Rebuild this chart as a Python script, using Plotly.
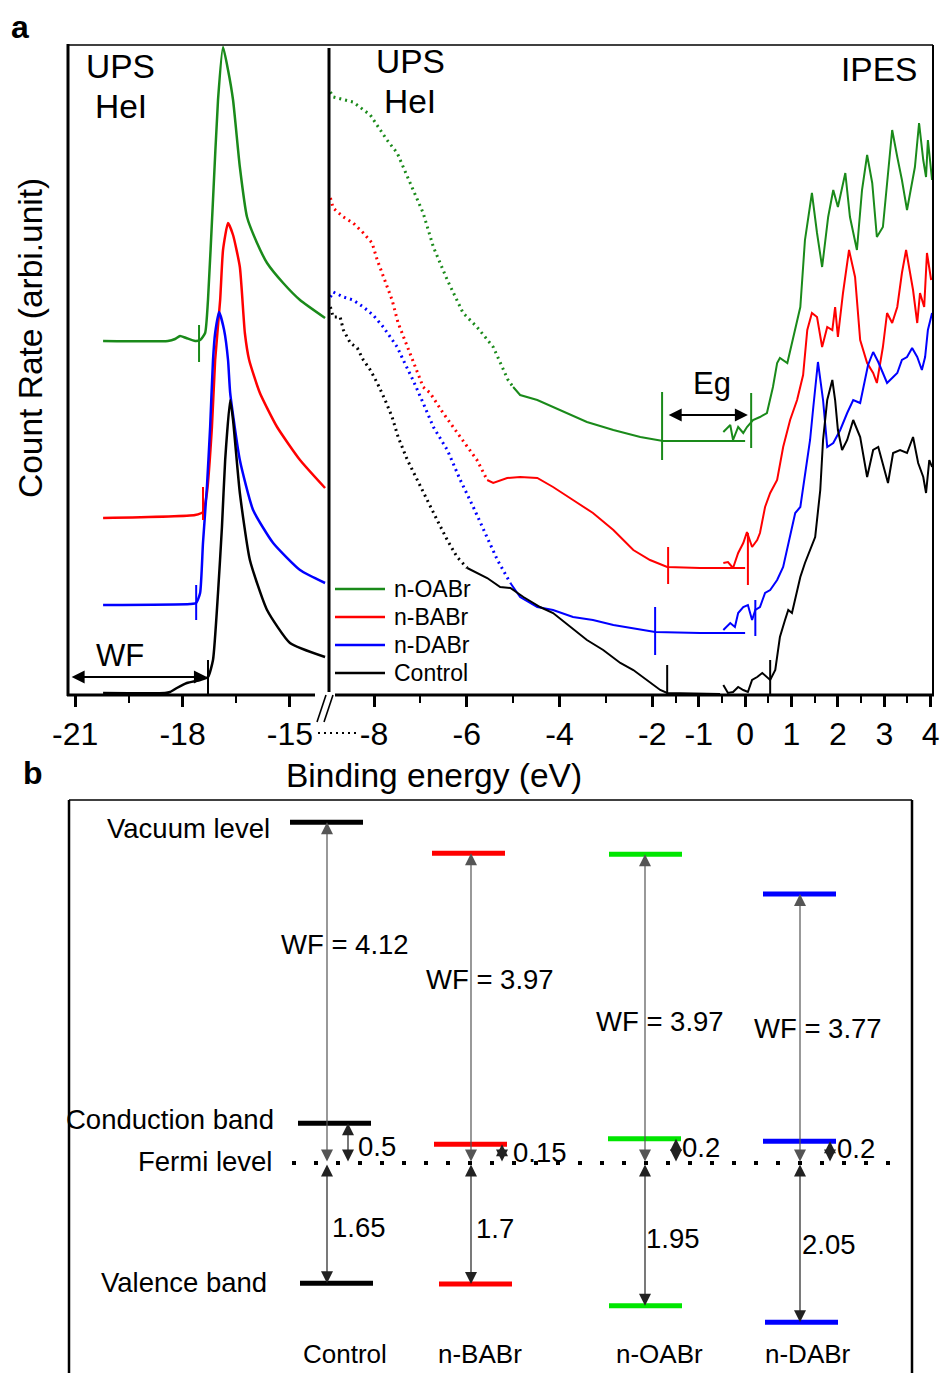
import plotly.graph_objects as go

W, H = 944, 1373
def PX(x):
    return x / W
def PY(y):
    return 1 - y / H

FONT = "Liberation Sans, Arial, sans-serif"

# ---------------- Panel a data ----------------
series = ["n-OABr", "n-BABr", "n-DABr", "Control"]
colors_a = ["#1a8a1a", "#ff0000", "#0000ff", "#000000"]

# secondary-electron cutoff region (binding energy eV, count rate arb.)
cut_e = [
    [-20.22, -18.41, -18.21, -18.07, -17.90, -17.65, -17.51, -17.37, -17.29, -17.15, -17.01, -16.87, -16.73, -16.59, -16.40, -16.20, -15.92, -15.64, -15.19, -14.72, -14.02],
    [-20.22, -17.65, -17.43, -17.32, -17.18, -17.09, -16.95, -16.87, -16.73, -16.59, -16.40, -16.26, -16.14, -15.84, -15.36, -14.72, -14.02],
    [-20.22, -17.79, -17.62, -17.51, -17.43, -17.32, -17.23, -17.15, -17.09, -16.98, -16.84, -16.73, -16.67, -16.40, -16.03, -15.47, -14.72, -14.02],
    [-20.22, -18.49, -18.35, -18.16, -17.88, -17.51, -17.29, -17.15, -17.01, -16.90, -16.81, -16.67, -16.59, -16.40, -16.12, -15.64, -15.00, -14.02],
]
cut_c = [
    [354, 354, 356, 359, 357, 354, 355, 362, 395, 495, 595, 648, 625, 595, 528, 478, 452, 432, 412, 395, 377],
    [177, 180, 183, 202, 268, 335, 395, 445, 472, 460, 428, 362, 335, 302, 268, 235, 207],
    [90, 91, 92, 102, 152, 208, 268, 335, 362, 383, 365, 335, 302, 235, 185, 152, 125, 112],
    [2, 2, 3, 7, 12, 15, 18, 35, 102, 168, 235, 295, 275, 202, 135, 85, 52, 38],
]

# UPS valence region, sparse (dotted) part
ups_dot_e = [
    [-8.94, -8.88, -8.45, -8.08, -7.72, -7.50, -7.22, -6.94, -6.72, -6.42, -6.08, -5.78, -5.43, -5.11, -5.00],
    [-8.94, -8.88, -8.66, -8.45, -8.23, -8.04, -7.93, -7.80, -7.61, -7.48, -7.28, -7.07, -6.94, -6.79, -6.51, -6.14, -5.78, -5.56],
    [-8.94, -8.88, -8.66, -8.45, -8.23, -8.02, -7.80, -7.65, -7.50, -7.37, -7.16, -6.94, -6.72, -6.42, -6.14, -5.86, -5.56, -5.34, -5.06],
    [-8.94, -8.88, -8.73, -8.66, -8.51, -8.36, -8.23, -8.08, -7.93, -7.76, -7.61, -7.48, -7.28, -7.07, -6.85, -6.64, -6.42, -6.21, -5.99],
]
ups_dot_c = [
    [603, 598, 593, 580, 555, 542, 512, 482, 448, 415, 382, 368, 348, 315, 308],
    [497, 487, 478, 472, 462, 452, 435, 418, 395, 372, 348, 322, 308, 302, 282, 258, 235, 215],
    [398, 403, 398, 395, 388, 380, 368, 358, 348, 335, 315, 292, 268, 245, 215, 188, 158, 135, 112],
    [388, 378, 378, 365, 352, 347, 335, 325, 312, 295, 278, 258, 235, 215, 195, 175, 155, 138, 127],
]
# UPS valence region, dense (solid) part
ups_sol_e = [
    [-5.00, -4.85, -4.48, -3.99, -3.41, -2.84, -2.26, -1.77, -0.97, 0.0],
    [-5.56, -5.43, -5.13, -4.85, -4.48, -4.14, -3.71, -3.28, -2.84, -2.41, -2.05, -1.68, -0.97, 0.0],
    [-5.06, -4.85, -4.48, -4.14, -3.71, -3.28, -2.84, -2.41, -1.94, -0.97, 0.0],
    [-5.99, -5.78, -5.56, -5.28, -5.06, -4.78, -4.42, -4.14, -3.77, -3.41, -3.06, -2.69, -2.41, -2.11, -1.83, -1.68, -0.97, -0.54],
]
ups_sol_c = [
    [308, 300, 295, 285, 273, 265, 258, 254, 254, 254],
    [215, 212, 217, 218, 217, 208, 195, 182, 165, 145, 135, 128, 127, 127],
    [112, 98, 88, 85, 78, 75, 70, 67, 63, 62, 62],
    [127, 122, 117, 108, 107, 98, 88, 82, 68, 55, 45, 32, 25, 15, 5, 2, 1, 1],
]
# IPES conduction region
ipes_e = [
    [-0.47, -0.32, -0.26, -0.15, -0.04, 0.04, 0.17, 0.32, 0.47, 0.60, 0.69, 0.75, 0.91, 1.03, 1.19, 1.29, 1.44, 1.55, 1.66, 1.79, 1.90, 2.00, 2.16, 2.26, 2.41, 2.52, 2.63, 2.74, 2.84, 2.97, 3.06, 3.17, 3.28, 3.38, 3.49, 3.60, 3.66, 3.75, 3.84, 3.90, 3.94, 4.03],
    [-0.47, -0.37, -0.26, -0.15, -0.04, 0.04, 0.15, 0.26, 0.32, 0.43, 0.54, 0.69, 0.82, 0.97, 1.12, 1.25, 1.34, 1.44, 1.55, 1.66, 1.77, 1.88, 1.94, 2.00, 2.11, 2.24, 2.37, 2.48, 2.63, 2.76, 2.84, 2.97, 3.06, 3.17, 3.28, 3.38, 3.47, 3.56, 3.62, 3.71, 3.77, 3.86, 3.92, 4.01],
    [-0.47, -0.32, -0.22, -0.15, -0.04, 0.06, 0.15, 0.22, 0.32, 0.43, 0.54, 0.69, 0.82, 0.97, 1.08, 1.19, 1.29, 1.40, 1.47, 1.57, 1.68, 1.77, 1.90, 2.05, 2.20, 2.33, 2.48, 2.65, 2.76, 2.87, 2.97, 3.06, 3.17, 3.28, 3.38, 3.49, 3.60, 3.71, 3.81, 3.88, 3.94, 4.03],
    [-0.47, -0.37, -0.26, -0.15, -0.04, 0.06, 0.15, 0.26, 0.37, 0.47, 0.54, 0.65, 0.75, 0.86, 0.93, 1.01, 1.08, 1.19, 1.29, 1.40, 1.51, 1.62, 1.68, 1.77, 1.88, 1.94, 2.00, 2.09, 2.20, 2.33, 2.48, 2.63, 2.76, 2.87, 2.97, 3.08, 3.19, 3.34, 3.49, 3.62, 3.73, 3.84, 3.90, 3.97, 4.03],
]
ipes_c = [
    [263, 270, 255, 268, 262, 268, 275, 278, 282, 308, 332, 337, 332, 355, 388, 455, 502, 462, 428, 478, 505, 488, 522, 478, 445, 505, 540, 512, 458, 468, 515, 565, 538, 515, 485, 512, 528, 572, 535, 518, 555, 515],
    [132, 133, 127, 142, 152, 163, 148, 155, 162, 188, 202, 215, 248, 275, 295, 320, 365, 382, 378, 348, 368, 365, 388, 358, 402, 445, 418, 355, 332, 322, 312, 348, 382, 372, 388, 422, 445, 422, 405, 372, 402, 388, 442, 415],
    [65, 72, 68, 82, 88, 90, 75, 85, 88, 102, 105, 115, 128, 158, 182, 188, 222, 255, 288, 333, 295, 248, 252, 265, 282, 295, 292, 330, 343, 333, 322, 312, 317, 322, 335, 338, 347, 338, 325, 338, 365, 382],
    [10, 2, 3, 8, 5, 3, 15, 18, 22, 18, 15, 25, 58, 75, 85, 82, 95, 118, 132, 145, 158, 205, 255, 295, 315, 295, 265, 245, 255, 275, 258, 218, 245, 248, 232, 212, 242, 245, 242, 258, 232, 218, 202, 235, 228],
]

# onset markers (energy, lower count, upper count)
cutoff_onset_e = [-17.54, -17.43, -17.62, -17.29]
cutoff_onset_lo = [333, 175, 75, 0]
cutoff_onset_hi = [370, 208, 110, 35]
vbm_e = [-1.79, -1.66, -1.94, -1.68]
vbm_lo = [235, 111, 40, 0]
vbm_hi = [303, 148, 88, 30]
cbm_e = [0.13, 0.06, 0.22, 0.54]
cbm_lo = [247, 110, 59, 0]
cbm_hi = [302, 162, 95, 35]

left_ticks = [-21, -18, -15]
left_minor = [-19.5, -16.5]
right_ticks = [-8, -6, -4, -2, -1, 0, 1, 2, 3, 4]
right_minor = [-7, -5, -3, -1.5, -0.5, 0.5, 1.5, 2.5, 3.5]

# ---------------- Panel b data ----------------
samples = ["Control", "n-BABr", "n-OABr", "n-DABr"]
colors_b = ["#000000", "#ff0000", "#00e600", "#0000ff"]
wf_values = [4.12, 3.97, 3.97, 3.77]
cb_gap = [0.5, 0.15, 0.2, 0.2]
vb_gap = [1.65, 1.7, 1.95, 2.05]
# drawn (schematic) level positions relative to Fermi level
vac_pos = [4.37, 3.97, 3.96, 3.45]
cb_pos = [0.51, 0.24, 0.31, 0.28]
vb_pos = [-1.54, -1.55, -1.83, -2.04]

fig = go.Figure()

for i, name in enumerate(series):
    col = colors_a[i]
    fig.add_trace(go.Scatter(x=cut_e[i], y=cut_c[i], mode="lines", name=name,
                             line=dict(color=col, width=2.5, shape="spline", smoothing=0.5),
                             xaxis="x", yaxis="y", legendgroup=name, showlegend=False))
    fig.add_trace(go.Scatter(x=ups_dot_e[i], y=ups_dot_c[i], mode="lines", name=name,
                             line=dict(color=col, width=3, dash="2px,4px"), xaxis="x2", yaxis="y",
                             legendgroup=name, showlegend=False))
    fig.add_trace(go.Scatter(x=ups_sol_e[i], y=ups_sol_c[i], mode="lines", name=name,
                             line=dict(color=col, width=2), xaxis="x2", yaxis="y",
                             legendgroup=name, showlegend=False))
    fig.add_trace(go.Scatter(x=ipes_e[i], y=ipes_c[i], mode="lines", name=name,
                             line=dict(color=col, width=2), xaxis="x2", yaxis="y",
                             legendgroup=name, showlegend=False))

shapes = []
for i in range(4):
    col = colors_a[i]
    shapes.append(dict(type="line", xref="x", yref="y", x0=cutoff_onset_e[i], x1=cutoff_onset_e[i],
                       y0=cutoff_onset_lo[i], y1=cutoff_onset_hi[i], line=dict(color=col, width=2)))
    shapes.append(dict(type="line", xref="x2", yref="y", x0=vbm_e[i], x1=vbm_e[i],
                       y0=vbm_lo[i], y1=vbm_hi[i], line=dict(color=col, width=2)))
    shapes.append(dict(type="line", xref="x2", yref="y", x0=cbm_e[i], x1=cbm_e[i],
                       y0=cbm_lo[i], y1=cbm_hi[i], line=dict(color=col, width=2)))

def pline(x0, y0, x1, y1, w, dash=None, color="black"):
    d = dict(type="line", xref="paper", yref="paper", x0=PX(x0), y0=PY(y0), x1=PX(x1), y1=PY(y1),
             line=dict(color=color, width=w))
    if dash:
        d["line"]["dash"] = dash
    return d

# frame panel a
shapes += [
    pline(68, 44, 68, 696, 3),
    pline(68, 45, 933, 45, 1.5),
    pline(933, 45, 933, 696, 2),
    pline(67, 695, 315, 695, 3),
    pline(335, 695, 934, 695, 3),
    pline(329, 48, 329, 692, 3),
    # axis break marks
    pline(317, 722, 326, 695, 1.6),
    pline(324, 722, 333, 695, 1.6),
    pline(318, 733, 360, 733, 2, dash="2px,4px"),
]
# frame panel b
shapes += [
    pline(69, 800, 69, 1373, 2.5),
    pline(69, 800, 912, 800, 1.5),
    pline(912, 800, 912, 1373, 2.5),
]

annotations = []

def ptext(text, x, y, size, bold=False, xanchor="center", angle=0):
    annotations.append(dict(text=("<b>%s</b>" % text) if bold else text, x=PX(x), y=PY(y),
                            xref="paper", yref="paper", showarrow=False, xanchor=xanchor,
                            yanchor="middle", textangle=angle,
                            font=dict(family=FONT, size=size, color="black")))

# legend (drawn as sample lines + labels)
legend_rows = [589, 617, 645, 673]
for i, name in enumerate(series):
    shapes.append(pline(335, legend_rows[i], 385, legend_rows[i], 2.5, color=colors_a[i]))
    ptext(name, 392, legend_rows[i], 23, xanchor="left")

# Panel b levels (x positions are layout in pixel-like units of xaxis3)
col_x = [327, 471, 645, 800]
cb_arrow_x = [348, 502, 676, 830]
vac_x0 = [290, 432, 609, 763]
cb_x0 = [298, 434, 608, 763]
vb_x0 = [300, 439, 609, 765]
bar_len = 73
for i in range(4):
    c = colors_b[i]
    for x0, yv in ((vac_x0[i], vac_pos[i]), (cb_x0[i], cb_pos[i]), (vb_x0[i], vb_pos[i])):
        shapes.append(dict(type="line", xref="x3", yref="y3", x0=x0, x1=x0 + bar_len, y0=yv, y1=yv,
                           line=dict(color=c, width=5)))
# Fermi level dotted line
shapes.append(dict(type="line", xref="x3", yref="y3", x0=292, x1=905, y0=0, y1=0,
                   line=dict(color="black", width=4, dash="4px,18px")))

ptext("a", 20, 27, 32, bold=True)
ptext("b", 33, 773, 32, bold=True)
ptext("UPS", 121, 67, 33.5)
ptext("HeI", 121, 106, 33.5)
ptext("UPS", 410, 62, 33.5)
ptext("HeI", 410, 102, 33.5)
ptext("IPES", 879, 70, 33.5)
ptext("WF", 120, 655, 31)
ptext("Eg", 712, 383, 31)
ptext("Binding energy (eV)", 434, 776, 33.5)
ptext("Count Rate (arbi.unit)", 30, 338, 33.5, angle=-90)

# arrows panel a
annotations.append(dict(x=-17.32, y=18, ax=-21.14, ay=18, xref="x", yref="y", axref="x", ayref="y",
                        showarrow=True, arrowside="end+start", arrowhead=2, arrowsize=1.3,
                        arrowwidth=2, arrowcolor="black", text=""))
annotations.append(dict(x=0.06, y=280, ax=-1.68, ay=280, xref="x2", yref="y", axref="x2", ayref="y",
                        showarrow=True, arrowside="end+start", arrowhead=2, arrowsize=1.3,
                        arrowwidth=2, arrowcolor="black", text=""))

# Panel b texts
ptext("Vacuum level", 188, 829, 27.5)
ptext("Conduction band", 170, 1119, 27.5)
ptext("Fermi level", 205, 1161, 27.5)
ptext("Valence band", 184, 1282, 27.5)
wf_text_xy = [(345, 944), (490, 979), (660, 1021), (818, 1028)]
cb_text_xy = [(377, 1146), (540, 1152), (701, 1147), (856, 1148)]
vb_text_xy = [(359, 1227), (495, 1228), (673, 1238), (829, 1244)]
name_xy = [(345, 1354), (480, 1354), (659, 1354), (808, 1354)]
for i in range(4):
    ptext("WF = %.2f" % wf_values[i], *wf_text_xy[i], 27.5)
    ptext(("%g" % cb_gap[i]), *cb_text_xy[i], 27.5)
    ptext(("%g" % vb_gap[i]), *vb_text_xy[i], 27.5)
    ptext(samples[i], *name_xy[i], 26)
    annotations.append(dict(x=col_x[i], y=vac_pos[i], ax=col_x[i], ay=0, xref="x3", yref="y3",
                            axref="x3", ayref="y3", showarrow=True, arrowside="end+start",
                            arrowhead=2, arrowsize=2, arrowwidth=1.2, arrowcolor="#555555", text=""))
    annotations.append(dict(x=col_x[i], y=vb_pos[i], ax=col_x[i], ay=0, xref="x3", yref="y3",
                            axref="x3", ayref="y3", showarrow=True, arrowside="end+start",
                            arrowhead=2, arrowsize=2, arrowwidth=1.2, arrowcolor="#222222", text=""))
    annotations.append(dict(x=cb_arrow_x[i], y=cb_pos[i], ax=cb_arrow_x[i], ay=0, xref="x3", yref="y3",
                            axref="x3", ayref="y3", showarrow=True, arrowside="end+start",
                            arrowhead=2, arrowsize=2, arrowwidth=1.2, arrowcolor="#222222", text=""))

tickfont = dict(family=FONT, size=32, color="black")
fig.update_layout(
    width=W, height=H, margin=dict(l=0, r=0, t=0, b=0, autoexpand=False),
    paper_bgcolor="white", plot_bgcolor="rgba(0,0,0,0)",
    font=dict(family=FONT, color="black"),
    showlegend=False,
    xaxis=dict(domain=[PX(68), PX(329)], range=[-21.2, -13.91], anchor="y", showline=False,
               showgrid=False, zeroline=False, ticks="outside", tickmode="array", automargin=False,
               tickvals=left_ticks, ticktext=[str(v) for v in left_ticks], ticklen=11,
               tickwidth=2.5, tickcolor="black", tickfont=tickfont,
               minor=dict(tickmode="array", tickvals=left_minor, ticks="outside", ticklen=7,
                          tickwidth=2, tickcolor="black", showgrid=False)),
    xaxis2=dict(domain=[PX(329), PX(933)], range=[-8.97, 4.05], anchor="y", showline=False,
                showgrid=False, zeroline=False, ticks="outside", tickmode="array", automargin=False,
                tickvals=right_ticks, ticktext=[str(v) for v in right_ticks], ticklen=11,
                tickwidth=2.5, tickcolor="black", tickfont=tickfont,
                minor=dict(tickmode="array", tickvals=right_minor, ticks="outside", ticklen=7,
                           tickwidth=2, tickcolor="black", showgrid=False)),
    yaxis=dict(domain=[PY(695), PY(45)], range=[0, 650], showticklabels=False, ticks="",
               showgrid=False, zeroline=False, showline=False, automargin=False),
    xaxis3=dict(domain=[PX(69), PX(912)], range=[69, 912], anchor="y3", visible=False, automargin=False),
    yaxis3=dict(domain=[0, PY(800)], range=[-2.692, 4.654], anchor="x3", visible=False, automargin=False),
    shapes=shapes,
    annotations=annotations,
)

fig.write_html("out.html")
